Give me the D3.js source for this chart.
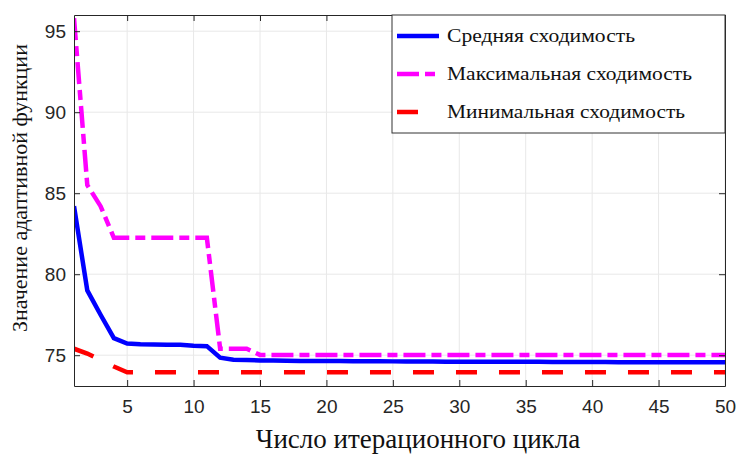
<!DOCTYPE html>
<html>
<head>
<meta charset="utf-8">
<script src="https://cdn.jsdelivr.net/npm/d3@7"></script>
<style>
  body { margin: 0; background: #fff; }
  .tick text { font-family: "Liberation Sans", Arial, sans-serif; font-size: 19px; fill: #262626; }
  .title { font-family: "Liberation Serif", "Times New Roman", serif; fill: #111; }
</style>
</head>
<body>
<script>
var width = 738,
    height = 455;
var margin = { top: 15, right: 13, bottom: 69, left: 74 };

// iterations 1..50
var iterations = d3.range(1, 51);

var meanValues = [84.2, 79.0, 77.5, 76.05, 75.72, 75.68, 75.66, 75.65, 75.64, 75.58,
  75.56, 74.85, 74.72, 74.7, 74.68, 74.67, 74.66, 74.65, 74.65, 74.64,
  74.64, 74.63, 74.63, 74.63, 74.62, 74.62, 74.61, 74.61, 74.6, 74.6,
  74.6, 74.6, 74.59, 74.59, 74.59, 74.59, 74.58, 74.58, 74.58, 74.58,
  74.58, 74.57, 74.57, 74.57, 74.57, 74.57, 74.57, 74.56, 74.56, 74.56];

var maxValues = [95.8, 85.5, 84.2, 82.25, 82.25, 82.25, 82.25, 82.25, 82.25, 82.25,
  82.25, 75.4, 75.4, 75.4, 75.02, 75.02, 75.02, 75.02, 75.02, 75.02,
  75.02, 75.02, 75.02, 75.02, 75.02, 75.02, 75.02, 75.02, 75.02, 75.02,
  75.02, 75.02, 75.02, 75.02, 75.02, 75.02, 75.02, 75.02, 75.02, 75.02,
  75.02, 75.02, 75.02, 75.02, 75.02, 75.02, 75.02, 75.02, 75.02, 75.02];

var minValues = [75.4, 75.1, 74.7, 74.3, 73.95, 73.95, 73.95, 73.95, 73.95, 73.95,
  73.95, 73.95, 73.95, 73.95, 73.95, 73.95, 73.95, 73.95, 73.95, 73.95,
  73.95, 73.95, 73.95, 73.95, 73.95, 73.95, 73.95, 73.95, 73.95, 73.95,
  73.95, 73.95, 73.95, 73.95, 73.95, 73.95, 73.95, 73.95, 73.95, 73.95,
  73.95, 73.95, 73.95, 73.95, 73.95, 73.95, 73.95, 73.95, 73.95, 73.95];

var seriesNames = ["Средняя сходимость", "Максимальная сходимость", "Минимальная сходимость"];
var xTicks = [5, 10, 15, 20, 25, 30, 35, 40, 45, 50];
var yTicks = [75, 80, 85, 90, 95];

var series = [
  { name: seriesNames[0], values: meanValues, color: "#0000ff", dash: null, textLen: 188 },
  { name: seriesNames[1], values: maxValues, color: "#ff00ff", dash: "22,6,10,6", textLen: 245 },
  { name: seriesNames[2], values: minValues, color: "#ff0000", dash: "21,22", textLen: 238 }
];

var x = d3.scaleLinear().domain([1, 50]).range([margin.left, width - margin.right]);
var y = d3.scaleLinear().domain([73.1, 96]).range([height - margin.bottom, margin.top]);

var svg = d3.select("body").append("svg")
    .attr("width", width)
    .attr("height", height);

// grid
svg.append("g")
    .selectAll("line.gx")
    .data(xTicks)
    .enter().append("line")
    .attr("x1", function(d) { return x(d); })
    .attr("x2", function(d) { return x(d); })
    .attr("y1", y.range()[0])
    .attr("y2", y.range()[1])
    .attr("stroke", "#e8e8e8");
svg.append("g")
    .selectAll("line.gy")
    .data(yTicks)
    .enter().append("line")
    .attr("y1", function(d) { return y(d); })
    .attr("y2", function(d) { return y(d); })
    .attr("x1", x.range()[0])
    .attr("x2", x.range()[1])
    .attr("stroke", "#e8e8e8");

// lines
var line = d3.line()
    .x(function(d, i) { return x(iterations[i]); })
    .y(function(d) { return y(d); });

svg.append("defs").append("clipPath").attr("id", "plot")
  .append("rect")
    .attr("x", margin.left)
    .attr("y", margin.top - 3)
    .attr("width", width - margin.left - margin.right)
    .attr("height", height - margin.top - margin.bottom + 3);

svg.append("g")
    .attr("clip-path", "url(#plot)")
    .selectAll("path")
    .data(series.slice().reverse())
    .enter().append("path")
    .attr("d", function(d) { return line(d.values); })
    .attr("fill", "none")
    .attr("stroke", function(d) { return d.color; })
    .attr("stroke-width", 4.5)
    .attr("stroke-dasharray", function(d) { return d.dash; });

// axes (box with inward ticks)
var axisColor = "#262626";
svg.append("g")
    .attr("transform", "translate(0," + y.range()[0] + ")")
    .call(d3.axisBottom(x).tickValues(xTicks).tickSizeInner(-6).tickSizeOuter(0).tickPadding(14))
    .call(function(g) { g.select(".domain").attr("stroke", axisColor); g.selectAll(".tick line").attr("stroke", axisColor); });
svg.append("g")
    .attr("transform", "translate(0," + y.range()[1] + ")")
    .call(d3.axisTop(x).tickValues(xTicks).tickSizeInner(-6).tickSizeOuter(0).tickFormat(""))
    .call(function(g) { g.select(".domain").attr("stroke", axisColor); g.selectAll(".tick line").attr("stroke", axisColor); });
svg.append("g")
    .attr("transform", "translate(" + x.range()[0] + ",0)")
    .call(d3.axisLeft(y).tickValues(yTicks).tickSizeInner(-6).tickSizeOuter(0).tickPadding(8))
    .call(function(g) { g.select(".domain").attr("stroke", axisColor); g.selectAll(".tick line").attr("stroke", axisColor); });
svg.append("g")
    .attr("transform", "translate(" + x.range()[1] + ",0)")
    .call(d3.axisRight(y).tickValues(yTicks).tickSizeInner(-6).tickSizeOuter(0).tickFormat(""))
    .call(function(g) { g.select(".domain").attr("stroke", axisColor); g.selectAll(".tick line").attr("stroke", axisColor); });

// titles
svg.append("text")
    .attr("class", "title")
    .attr("x", 418)
    .attr("y", 448)
    .attr("text-anchor", "middle")
    .style("font-size", "27px")
    .text("Число итерационного цикла");
svg.append("text")
    .attr("class", "title")
    .attr("transform", "translate(27,188) rotate(-90)")
    .attr("text-anchor", "middle")
    .style("font-size", "22px")
    .text("Значение адаптивной функции");

// legend
var legend = svg.append("g").attr("transform", "translate(392,15)");
legend.append("rect")
    .attr("width", x.range()[1] - 392)
    .attr("height", 118)
    .attr("fill", "#fff")
    .attr("stroke", "#333")
    .attr("stroke-width", 1);
var rows = legend.selectAll("g.row")
    .data(series)
    .enter().append("g")
    .attr("transform", function(d, i) { return "translate(0," + [21, 59, 97][i] + ")"; });
rows.append("line")
    .attr("x1", 5).attr("x2", 47)
    .attr("stroke", function(d) { return d.color; })
    .attr("stroke-width", 4.5)
    .attr("stroke-dasharray", function(d) { return d.dash; });
rows.append("text")
    .attr("class", "title")
    .attr("x", 55)
    .attr("dy", "0.33em")
    .attr("textLength", function(d) { return d.textLen; })
    .attr("lengthAdjust", "spacingAndGlyphs")
    .style("font-size", "19px")
    .text(function(d) { return d.name; });
</script>
</body>
</html>
